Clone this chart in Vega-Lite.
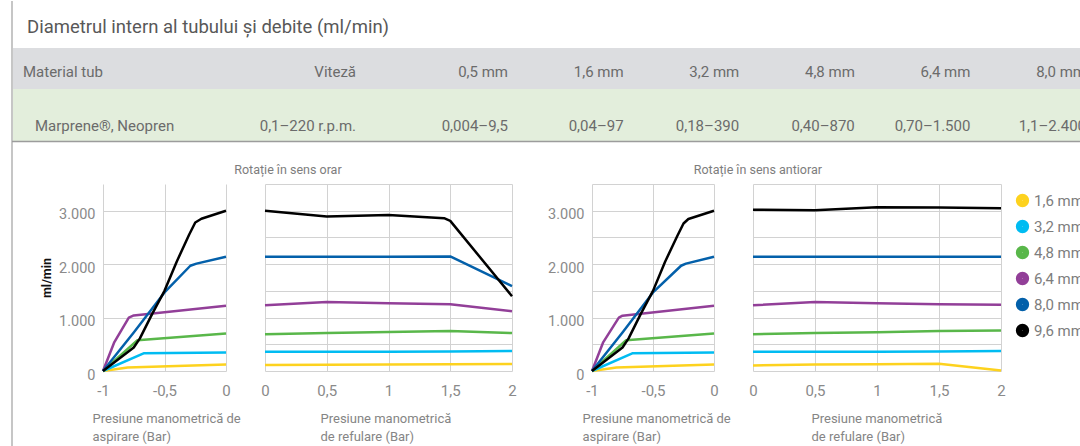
{
  "$schema": "https://vega.github.io/schema/vega-lite/v6.json",
  "padding": {"left": 11, "top": 0, "right": 0, "bottom": 0},
  "background": "white",
  "datasets": {
    "table": [
      {"row": "header", "col": "Material tub", "text": "Material tub"},
      {"row": "header", "col": "Viteză", "text": "Viteză"},
      {"row": "header", "col": "0,5 mm", "text": "0,5 mm"},
      {"row": "header", "col": "1,6 mm", "text": "1,6 mm"},
      {"row": "header", "col": "3,2 mm", "text": "3,2 mm"},
      {"row": "header", "col": "4,8 mm", "text": "4,8 mm"},
      {"row": "header", "col": "6,4 mm", "text": "6,4 mm"},
      {"row": "header", "col": "8,0 mm", "text": "8,0 mm"},
      {"row": "value", "col": "Material tub", "text": "Marprene®, Neopren"},
      {"row": "value", "col": "Viteză", "text": "0,1–220 r.p.m."},
      {"row": "value", "col": "0,5 mm", "text": "0,004–9,5"},
      {"row": "value", "col": "1,6 mm", "text": "0,04–97"},
      {"row": "value", "col": "3,2 mm", "text": "0,18–390"},
      {"row": "value", "col": "4,8 mm", "text": "0,40–870"},
      {"row": "value", "col": "6,4 mm", "text": "0,70–1.500"},
      {"row": "value", "col": "8,0 mm", "text": "1,1–2.400"}
    ],
    "flows": [
      {"panel": "asp_orar", "diam": "1,6 mm", "p": -1, "flow": 0},
      {"panel": "asp_orar", "diam": "1,6 mm", "p": -0.8, "flow": 65},
      {"panel": "asp_orar", "diam": "1,6 mm", "p": 0, "flow": 120},
      {"panel": "asp_orar", "diam": "3,2 mm", "p": -1, "flow": 0},
      {"panel": "asp_orar", "diam": "3,2 mm", "p": -0.67, "flow": 330},
      {"panel": "asp_orar", "diam": "3,2 mm", "p": 0, "flow": 345},
      {"panel": "asp_orar", "diam": "4,8 mm", "p": -1, "flow": 0},
      {"panel": "asp_orar", "diam": "4,8 mm", "p": -0.72, "flow": 575},
      {"panel": "asp_orar", "diam": "4,8 mm", "p": 0, "flow": 700},
      {"panel": "asp_orar", "diam": "6,4 mm", "p": -1, "flow": 0},
      {"panel": "asp_orar", "diam": "6,4 mm", "p": -0.91, "flow": 530},
      {"panel": "asp_orar", "diam": "6,4 mm", "p": -0.79, "flow": 1000},
      {"panel": "asp_orar", "diam": "6,4 mm", "p": -0.75, "flow": 1040},
      {"panel": "asp_orar", "diam": "6,4 mm", "p": 0, "flow": 1220},
      {"panel": "asp_orar", "diam": "8,0 mm", "p": -1, "flow": 0},
      {"panel": "asp_orar", "diam": "8,0 mm", "p": -0.75, "flow": 720},
      {"panel": "asp_orar", "diam": "8,0 mm", "p": -0.5, "flow": 1470},
      {"panel": "asp_orar", "diam": "8,0 mm", "p": -0.29, "flow": 1970},
      {"panel": "asp_orar", "diam": "8,0 mm", "p": -0.24, "flow": 2010},
      {"panel": "asp_orar", "diam": "8,0 mm", "p": 0, "flow": 2140},
      {"panel": "asp_orar", "diam": "9,6 mm", "p": -1, "flow": 0},
      {"panel": "asp_orar", "diam": "9,6 mm", "p": -0.75, "flow": 440},
      {"panel": "asp_orar", "diam": "9,6 mm", "p": -0.7, "flow": 610},
      {"panel": "asp_orar", "diam": "9,6 mm", "p": -0.6, "flow": 1070},
      {"panel": "asp_orar", "diam": "9,6 mm", "p": -0.5, "flow": 1500},
      {"panel": "asp_orar", "diam": "9,6 mm", "p": -0.4, "flow": 2050},
      {"panel": "asp_orar", "diam": "9,6 mm", "p": -0.3, "flow": 2550},
      {"panel": "asp_orar", "diam": "9,6 mm", "p": -0.25, "flow": 2780},
      {"panel": "asp_orar", "diam": "9,6 mm", "p": -0.2, "flow": 2850},
      {"panel": "asp_orar", "diam": "9,6 mm", "p": 0, "flow": 3000},

      {"panel": "ref_orar", "diam": "1,6 mm", "p": 0, "flow": 110},
      {"panel": "ref_orar", "diam": "1,6 mm", "p": 0.5, "flow": 115},
      {"panel": "ref_orar", "diam": "1,6 mm", "p": 1, "flow": 120},
      {"panel": "ref_orar", "diam": "1,6 mm", "p": 1.5, "flow": 125},
      {"panel": "ref_orar", "diam": "1,6 mm", "p": 2, "flow": 130},
      {"panel": "ref_orar", "diam": "3,2 mm", "p": 0, "flow": 360},
      {"panel": "ref_orar", "diam": "3,2 mm", "p": 0.5, "flow": 360},
      {"panel": "ref_orar", "diam": "3,2 mm", "p": 1, "flow": 362},
      {"panel": "ref_orar", "diam": "3,2 mm", "p": 1.5, "flow": 365},
      {"panel": "ref_orar", "diam": "3,2 mm", "p": 2, "flow": 375},
      {"panel": "ref_orar", "diam": "4,8 mm", "p": 0, "flow": 690},
      {"panel": "ref_orar", "diam": "4,8 mm", "p": 0.5, "flow": 710},
      {"panel": "ref_orar", "diam": "4,8 mm", "p": 1, "flow": 730},
      {"panel": "ref_orar", "diam": "4,8 mm", "p": 1.5, "flow": 750},
      {"panel": "ref_orar", "diam": "4,8 mm", "p": 2, "flow": 710},
      {"panel": "ref_orar", "diam": "6,4 mm", "p": 0, "flow": 1230},
      {"panel": "ref_orar", "diam": "6,4 mm", "p": 0.5, "flow": 1290},
      {"panel": "ref_orar", "diam": "6,4 mm", "p": 1, "flow": 1270},
      {"panel": "ref_orar", "diam": "6,4 mm", "p": 1.5, "flow": 1250},
      {"panel": "ref_orar", "diam": "6,4 mm", "p": 2, "flow": 1120},
      {"panel": "ref_orar", "diam": "8,0 mm", "p": 0, "flow": 2140},
      {"panel": "ref_orar", "diam": "8,0 mm", "p": 0.5, "flow": 2140},
      {"panel": "ref_orar", "diam": "8,0 mm", "p": 1, "flow": 2140},
      {"panel": "ref_orar", "diam": "8,0 mm", "p": 1.5, "flow": 2145},
      {"panel": "ref_orar", "diam": "8,0 mm", "p": 2, "flow": 1590},
      {"panel": "ref_orar", "diam": "9,6 mm", "p": 0, "flow": 3000},
      {"panel": "ref_orar", "diam": "9,6 mm", "p": 0.5, "flow": 2890},
      {"panel": "ref_orar", "diam": "9,6 mm", "p": 1, "flow": 2920},
      {"panel": "ref_orar", "diam": "9,6 mm", "p": 1.45, "flow": 2860},
      {"panel": "ref_orar", "diam": "9,6 mm", "p": 1.5, "flow": 2810},
      {"panel": "ref_orar", "diam": "9,6 mm", "p": 2, "flow": 1400},

      {"panel": "asp_antiorar", "diam": "1,6 mm", "p": -1, "flow": 0},
      {"panel": "asp_antiorar", "diam": "1,6 mm", "p": -0.8, "flow": 65},
      {"panel": "asp_antiorar", "diam": "1,6 mm", "p": 0, "flow": 120},
      {"panel": "asp_antiorar", "diam": "3,2 mm", "p": -1, "flow": 0},
      {"panel": "asp_antiorar", "diam": "3,2 mm", "p": -0.67, "flow": 330},
      {"panel": "asp_antiorar", "diam": "3,2 mm", "p": 0, "flow": 345},
      {"panel": "asp_antiorar", "diam": "4,8 mm", "p": -1, "flow": 0},
      {"panel": "asp_antiorar", "diam": "4,8 mm", "p": -0.72, "flow": 575},
      {"panel": "asp_antiorar", "diam": "4,8 mm", "p": 0, "flow": 700},
      {"panel": "asp_antiorar", "diam": "6,4 mm", "p": -1, "flow": 0},
      {"panel": "asp_antiorar", "diam": "6,4 mm", "p": -0.91, "flow": 530},
      {"panel": "asp_antiorar", "diam": "6,4 mm", "p": -0.78, "flow": 1000},
      {"panel": "asp_antiorar", "diam": "6,4 mm", "p": -0.75, "flow": 1035},
      {"panel": "asp_antiorar", "diam": "6,4 mm", "p": 0, "flow": 1220},
      {"panel": "asp_antiorar", "diam": "8,0 mm", "p": -1, "flow": 0},
      {"panel": "asp_antiorar", "diam": "8,0 mm", "p": -0.75, "flow": 720},
      {"panel": "asp_antiorar", "diam": "8,0 mm", "p": -0.5, "flow": 1470},
      {"panel": "asp_antiorar", "diam": "8,0 mm", "p": -0.27, "flow": 1970},
      {"panel": "asp_antiorar", "diam": "8,0 mm", "p": -0.23, "flow": 2010},
      {"panel": "asp_antiorar", "diam": "8,0 mm", "p": 0, "flow": 2140},
      {"panel": "asp_antiorar", "diam": "9,6 mm", "p": -1, "flow": 0},
      {"panel": "asp_antiorar", "diam": "9,6 mm", "p": -0.75, "flow": 440},
      {"panel": "asp_antiorar", "diam": "9,6 mm", "p": -0.7, "flow": 610},
      {"panel": "asp_antiorar", "diam": "9,6 mm", "p": -0.6, "flow": 1070},
      {"panel": "asp_antiorar", "diam": "9,6 mm", "p": -0.5, "flow": 1500},
      {"panel": "asp_antiorar", "diam": "9,6 mm", "p": -0.4, "flow": 2050},
      {"panel": "asp_antiorar", "diam": "9,6 mm", "p": -0.3, "flow": 2530},
      {"panel": "asp_antiorar", "diam": "9,6 mm", "p": -0.25, "flow": 2760},
      {"panel": "asp_antiorar", "diam": "9,6 mm", "p": -0.21, "flow": 2845},
      {"panel": "asp_antiorar", "diam": "9,6 mm", "p": 0, "flow": 3000},

      {"panel": "ref_antiorar", "diam": "1,6 mm", "p": 0, "flow": 105},
      {"panel": "ref_antiorar", "diam": "1,6 mm", "p": 0.5, "flow": 120},
      {"panel": "ref_antiorar", "diam": "1,6 mm", "p": 1, "flow": 125},
      {"panel": "ref_antiorar", "diam": "1,6 mm", "p": 1.5, "flow": 135},
      {"panel": "ref_antiorar", "diam": "1,6 mm", "p": 2, "flow": 10},
      {"panel": "ref_antiorar", "diam": "3,2 mm", "p": 0, "flow": 360},
      {"panel": "ref_antiorar", "diam": "3,2 mm", "p": 0.5, "flow": 360},
      {"panel": "ref_antiorar", "diam": "3,2 mm", "p": 1, "flow": 362},
      {"panel": "ref_antiorar", "diam": "3,2 mm", "p": 1.5, "flow": 365},
      {"panel": "ref_antiorar", "diam": "3,2 mm", "p": 2, "flow": 375},
      {"panel": "ref_antiorar", "diam": "4,8 mm", "p": 0, "flow": 690},
      {"panel": "ref_antiorar", "diam": "4,8 mm", "p": 0.5, "flow": 710},
      {"panel": "ref_antiorar", "diam": "4,8 mm", "p": 1, "flow": 725},
      {"panel": "ref_antiorar", "diam": "4,8 mm", "p": 1.5, "flow": 750},
      {"panel": "ref_antiorar", "diam": "4,8 mm", "p": 2, "flow": 760},
      {"panel": "ref_antiorar", "diam": "6,4 mm", "p": 0, "flow": 1230},
      {"panel": "ref_antiorar", "diam": "6,4 mm", "p": 0.5, "flow": 1290},
      {"panel": "ref_antiorar", "diam": "6,4 mm", "p": 1, "flow": 1270},
      {"panel": "ref_antiorar", "diam": "6,4 mm", "p": 1.5, "flow": 1250},
      {"panel": "ref_antiorar", "diam": "6,4 mm", "p": 2, "flow": 1240},
      {"panel": "ref_antiorar", "diam": "8,0 mm", "p": 0, "flow": 2140},
      {"panel": "ref_antiorar", "diam": "8,0 mm", "p": 0.5, "flow": 2140},
      {"panel": "ref_antiorar", "diam": "8,0 mm", "p": 1, "flow": 2140},
      {"panel": "ref_antiorar", "diam": "8,0 mm", "p": 1.5, "flow": 2140},
      {"panel": "ref_antiorar", "diam": "8,0 mm", "p": 2, "flow": 2140},
      {"panel": "ref_antiorar", "diam": "9,6 mm", "p": 0, "flow": 3020},
      {"panel": "ref_antiorar", "diam": "9,6 mm", "p": 0.5, "flow": 3010},
      {"panel": "ref_antiorar", "diam": "9,6 mm", "p": 1, "flow": 3065},
      {"panel": "ref_antiorar", "diam": "9,6 mm", "p": 1.5, "flow": 3060},
      {"panel": "ref_antiorar", "diam": "9,6 mm", "p": 2, "flow": 3045}
    ]
  },
  "spacing": -141,
  "resolve": {"scale": {"color": "independent"}},
  "vconcat": [
    {
      "spacing": 0,
      "vconcat": [
        {
          "width": 1069, "height": 48,
          "data": {"values": [{"row": "title", "text": "Diametrul intern al tubului și debite (ml/min)"}]},
          "mark": {"type": "text", "align": "left", "baseline": "alphabetic", "fontSize": 18.5, "color": "#585858", "clip": true},
          "encoding": {
            "x": {"field": "row", "type": "nominal", "scale": {"type": "point", "range": [16, 16]}, "axis": null},
            "y": {"field": "row", "type": "nominal", "scale": {"type": "point", "range": [33, 33]}, "axis": null},
            "text": {"field": "text"}
          }
        },
        {
          "width": 1069, "height": 41,
          "view": {"fill": "#dcdde0", "stroke": null},
          "data": {"name": "table"},
          "transform": [{"filter": "datum.row === 'header'"}],
          "encoding": {
            "y": {"field": "row", "type": "nominal", "scale": {"type": "point", "range": [29, 29]}, "axis": null},
            "text": {"field": "text"}
          },
          "layer": [
            {
              "transform": [{"filter": "datum.col === 'Material tub'"}],
              "mark": {"type": "text", "align": "left", "baseline": "alphabetic", "fontSize": 15, "color": "#6b6b6b", "clip": true},
              "encoding": {"x": {"field": "col", "type": "nominal", "scale": {"type": "point", "range": [12, 12]}, "axis": null}}
            },
            {
              "transform": [{"filter": "datum.col === 'Viteză'"}],
              "mark": {"type": "text", "align": "right", "baseline": "alphabetic", "fontSize": 15, "color": "#6b6b6b", "clip": true},
              "encoding": {"x": {"field": "col", "type": "nominal", "scale": {"type": "point", "range": [345, 345]}, "axis": null}}
            },
            {
              "transform": [{"filter": "datum.col !== 'Material tub' && datum.col !== 'Viteză'"}],
              "mark": {"type": "text", "align": "right", "baseline": "alphabetic", "fontSize": 15, "color": "#6b6b6b", "clip": true},
              "encoding": {"x": {"field": "col", "type": "nominal", "sort": null, "scale": {"type": "point", "range": [497, 1075], "padding": 0}, "axis": null}}
            }
          ],
          "resolve": {"scale": {"x": "independent"}}
        },
        {
          "width": 1069, "height": 52,
          "view": {"fill": "#e3eedc", "stroke": null},
          "data": {"name": "table"},
          "transform": [{"filter": "datum.row === 'value'"}],
          "encoding": {
            "y": {"field": "row", "type": "nominal", "scale": {"type": "point", "range": [42, 42]}, "axis": null},
            "text": {"field": "text"}
          },
          "layer": [
            {
              "transform": [{"filter": "datum.col === 'Material tub'"}],
              "mark": {"type": "text", "align": "left", "baseline": "alphabetic", "fontSize": 15, "color": "#6b6b6b", "clip": true},
              "encoding": {"x": {"field": "col", "type": "nominal", "scale": {"type": "point", "range": [24, 24]}, "axis": null}}
            },
            {
              "transform": [{"filter": "datum.col === 'Viteză'"}],
              "mark": {"type": "text", "align": "right", "baseline": "alphabetic", "fontSize": 15, "color": "#6b6b6b", "clip": true},
              "encoding": {"x": {"field": "col", "type": "nominal", "scale": {"type": "point", "range": [345, 345]}, "axis": null}}
            },
            {
              "transform": [{"filter": "datum.col !== 'Material tub' && datum.col !== 'Viteză'"}],
              "mark": {"type": "text", "align": "right", "baseline": "alphabetic", "fontSize": 15, "color": "#6b6b6b", "clip": true},
              "encoding": {"x": {"field": "col", "type": "nominal", "sort": null, "scale": {"type": "point", "range": [497, 1075], "padding": 0}, "axis": null}}
            }
          ],
          "resolve": {"scale": {"x": "independent"}}
        }
      ]
    },
    {
      "bounds": "flush",
      "spacing": 39,
      "hconcat": [
        {
          "width": 53, "height": 187,
          "data": {"values": [{}]},
          "mark": {"type": "text", "text": ""}
        },
        {
          "width": 123, "height": 187,
          "layer": [
            {
              "data": {"name": "flows"},
              "transform": [{"filter": "datum.panel === 'asp_orar'"}],
              "mark": {"type": "line", "strokeWidth": 2.5, "strokeJoin": "round"},
              "encoding": {
                "x": {"field": "p", "type": "quantitative", "scale": {"domain": [-1, 0], "nice": false, "zero": false},
                  "axis": {"values": [-1, -0.5, 0], "format": "~g", "labelPadding": 12,
                    "title": ["Presiune manometrică de", "aspirare (Bar)"], "titleX": -11, "titleY": 41, "titleAlign": "left", "titleBaseline": "top",
                    "titleFontSize": 13, "titleFontWeight": "normal", "titleColor": "#858585", "titleLineHeight": 18}},
                "y": {"field": "flow", "type": "quantitative", "scale": {"domain": [0, 3500], "nice": false},
                  "axis": {"values": [0, 500, 1000, 1500, 2000, 2500, 3000, 3500], "format": ",d",
                    "labelExpr": "datum.value % 1000 === 0 && datum.value < 3500 ? datum.label : ''",
                    "labelPadding": 8, "labelOffset": 4, "labelFontSize": 14.5, "title": "ml/min", "titleFontWeight": "bold", "titleColor": "#111111",
                    "titleFontSize": 12.5, "titlePadding": 5}},
                "color": {"field": "diam", "type": "nominal",
                  "scale": {"domain": ["1,6 mm", "3,2 mm", "4,8 mm", "6,4 mm", "8,0 mm", "9,6 mm"], "range": ["#fdd21e", "#00bcf2", "#59b74a", "#923f98", "#0360aa", "#000000"]},
                  "legend": {"orient": "none", "legendX": 1004, "legendY": 9, "title": null, "symbolType": "circle", "symbolSize": 40, "symbolStrokeWidth": 7,
                    "labelFontSize": 15, "labelColor": "#7d7d7d", "labelOffset": 4, "rowPadding": -9, "padding": 0}}
              }
            },
            {
              "data": {"values": [{}]},
              "mark": {"type": "rule", "color": "#c6c6c6", "strokeWidth": 2},
              "encoding": {"x": {"datum": -1.7398}, "y": {"datum": 6925}, "y2": {"datum": -1422}}
            },
            {
              "data": {"values": [{}]},
              "mark": {"type": "rule", "color": "#9c9c9c", "strokeWidth": 1.5},
              "encoding": {"x": {"datum": -1.7398}, "x2": {"datum": 6.943}, "y": {"datum": 4295}}
            }
          ]
        },
        {
          "width": 247, "height": 187,
          "title": {"text": "Rotație în sens orar", "anchor": "start", "dx": -26.5, "dy": 14, "offset": 12, "baseline": "alphabetic", "fontSize": 12.5, "fontWeight": "normal", "color": "#7d7d7d"},
          "data": {"name": "flows"},
          "transform": [{"filter": "datum.panel === 'ref_orar'"}],
          "mark": {"type": "line", "strokeWidth": 2.5, "strokeJoin": "round"},
          "encoding": {
            "x": {"field": "p", "type": "quantitative", "scale": {"domain": [0, 2], "nice": false},
              "axis": {"values": [0, 0.5, 1, 1.5, 2], "format": "~g", "labelPadding": 12,
                "title": ["Presiune manometrică", "de refulare (Bar)"], "titleX": 55, "titleY": 41, "titleAlign": "left", "titleBaseline": "top",
                "titleFontSize": 13, "titleFontWeight": "normal", "titleColor": "#858585", "titleLineHeight": 18}},
            "y": {"field": "flow", "type": "quantitative", "scale": {"domain": [0, 3500], "nice": false},
              "axis": {"values": [0, 500, 1000, 1500, 2000, 2500, 3000, 3500], "labels": false, "title": null}},
            "color": {"field": "diam", "type": "nominal"}
          }
        },
        {
          "width": 2, "height": 187,
          "data": {"values": [{}]},
          "mark": {"type": "text", "text": ""}
        },
        {
          "width": 122, "height": 187,
          "data": {"name": "flows"},
          "transform": [{"filter": "datum.panel === 'asp_antiorar'"}],
          "mark": {"type": "line", "strokeWidth": 2.5, "strokeJoin": "round"},
          "encoding": {
            "x": {"field": "p", "type": "quantitative", "scale": {"domain": [-1, 0], "nice": false, "zero": false},
              "axis": {"values": [-1, -0.5, 0], "format": "~g", "labelPadding": 12,
                "title": ["Presiune manometrică de", "aspirare (Bar)"], "titleX": -10, "titleY": 41, "titleAlign": "left", "titleBaseline": "top",
                "titleFontSize": 13, "titleFontWeight": "normal", "titleColor": "#858585", "titleLineHeight": 18}},
            "y": {"field": "flow", "type": "quantitative", "scale": {"domain": [0, 3500], "nice": false},
              "axis": {"values": [0, 500, 1000, 1500, 2000, 2500, 3000, 3500], "format": ",d",
                "labelExpr": "datum.value % 1000 === 0 && datum.value < 3500 ? datum.label : ''",
                "labelPadding": 8, "labelOffset": 4, "labelFontSize": 14.5, "title": null}},
            "color": {"field": "diam", "type": "nominal"}
          }
        },
        {
          "width": 248, "height": 187,
          "title": {"text": "Rotație în sens antiorar", "anchor": "start", "dx": -55, "dy": 14, "offset": 12, "baseline": "alphabetic", "fontSize": 12.5, "fontWeight": "normal", "color": "#7d7d7d"},
          "data": {"name": "flows"},
          "transform": [{"filter": "datum.panel === 'ref_antiorar'"}],
          "mark": {"type": "line", "strokeWidth": 2.5, "strokeJoin": "round"},
          "encoding": {
            "x": {"field": "p", "type": "quantitative", "scale": {"domain": [0, 2], "nice": false},
              "axis": {"values": [0, 0.5, 1, 1.5, 2], "format": "~g", "labelPadding": 12,
                "title": ["Presiune manometrică", "de refulare (Bar)"], "titleX": 58, "titleY": 41, "titleAlign": "left", "titleBaseline": "top",
                "titleFontSize": 13, "titleFontWeight": "normal", "titleColor": "#858585", "titleLineHeight": 18}},
            "y": {"field": "flow", "type": "quantitative", "scale": {"domain": [0, 3500], "nice": false},
              "axis": {"values": [0, 500, 1000, 1500, 2000, 2500, 3000, 3500], "labels": false, "title": null}},
            "color": {"field": "diam", "type": "nominal"}
          }
        }
      ]
    }
  ],
  "config": {
    "view": {"stroke": null},
    "font": "Roboto",
    "locale": {"number": {"decimal": ",", "thousands": ".", "grouping": [3], "currency": ["", ""], "minus": "-"}},
    "axis": {"domain": false, "ticks": false, "grid": true, "gridColor": "#d2d2d2", "gridWidth": 1,
      "labelColor": "#8a8a8a", "labelFontSize": 15, "labelFlush": false, "labelOverlap": false,
      "labelFont": "Roboto", "titleFont": "Roboto"},
    "legend": {"labelFont": "Roboto"},
    "title": {"font": "Roboto"}
  }
}
